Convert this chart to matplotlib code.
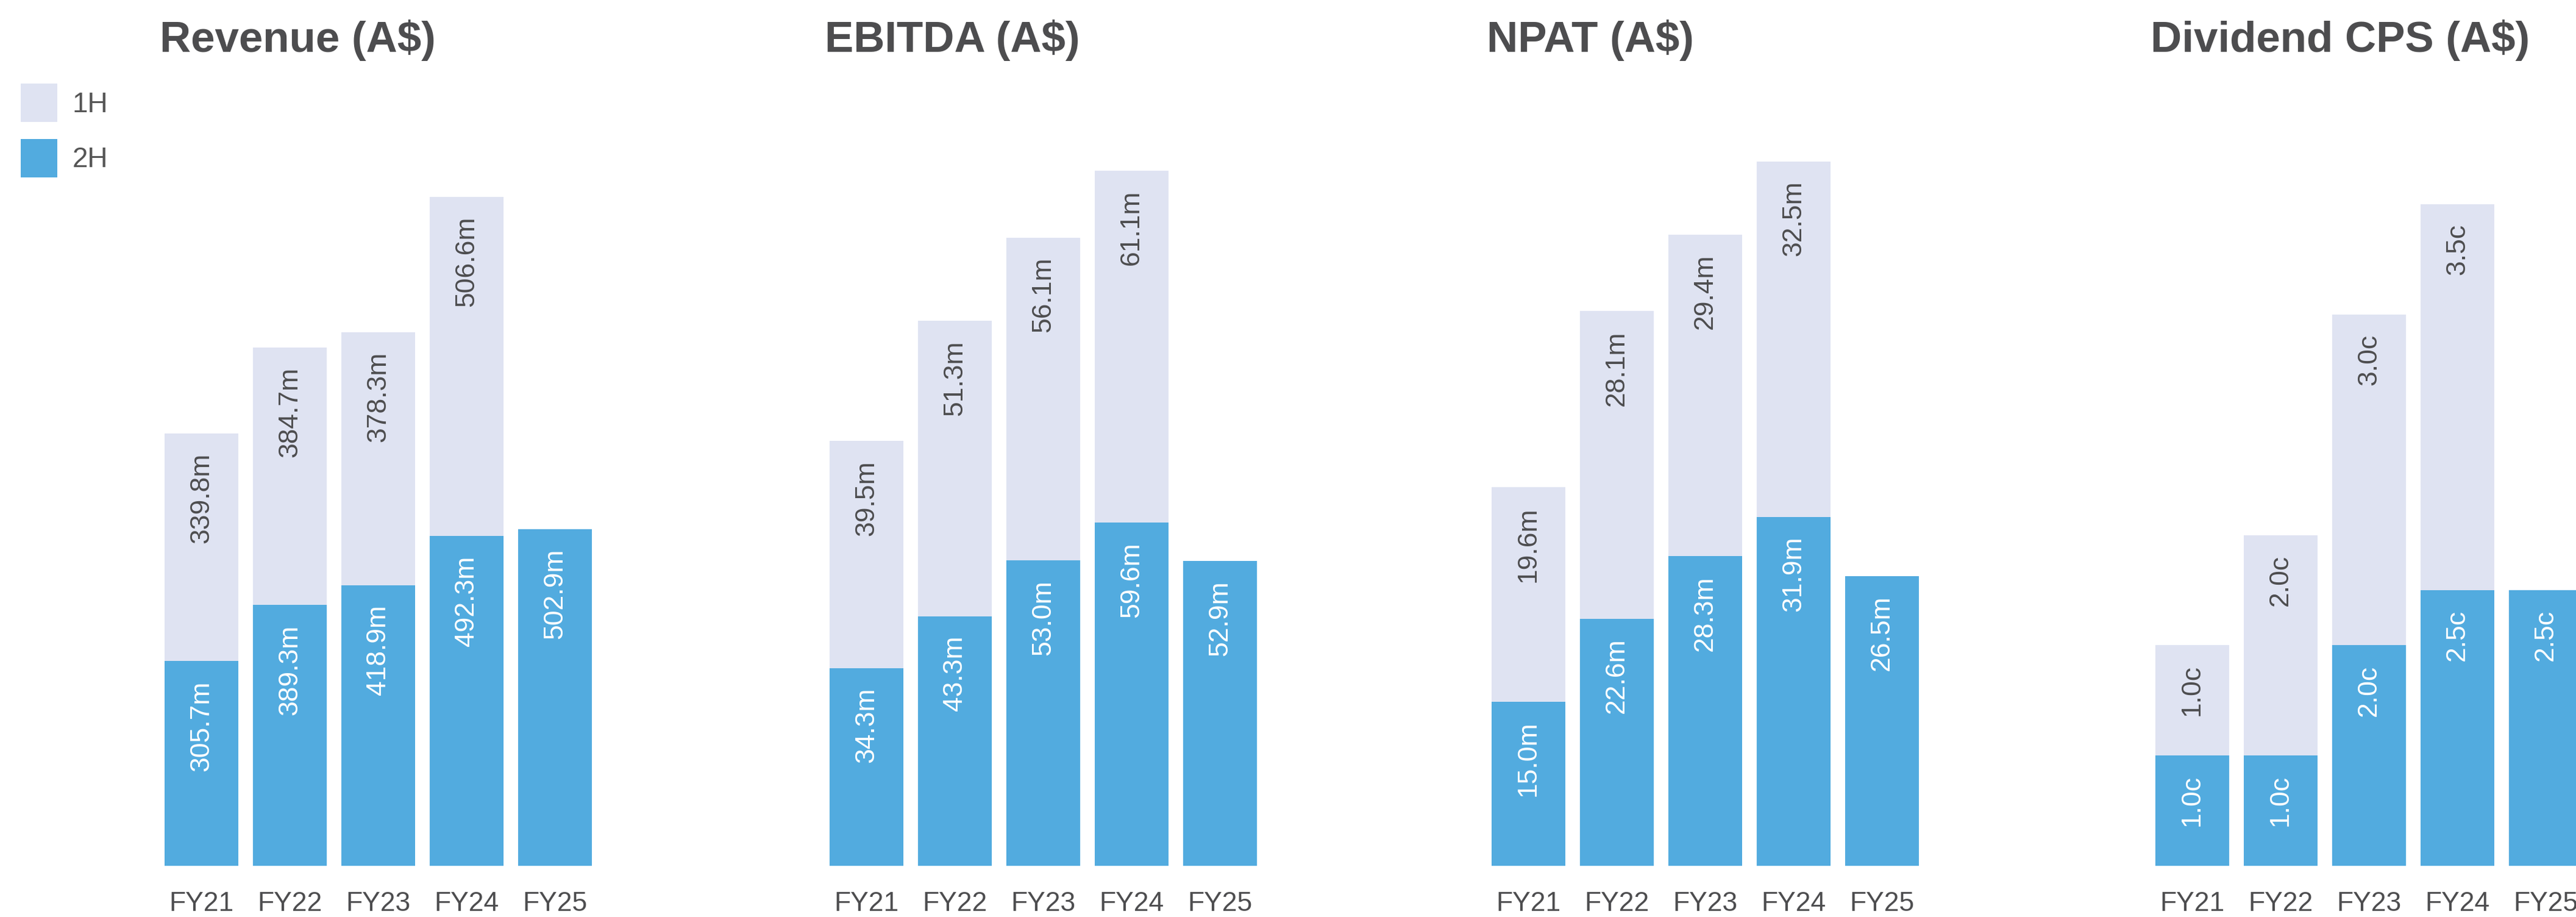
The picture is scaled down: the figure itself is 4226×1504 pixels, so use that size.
import matplotlib
matplotlib.use("Agg")
import matplotlib.pyplot as plt
from matplotlib.patches import Patch

plt.rcParams['font.family'] = ['Liberation Sans', 'DejaVu Sans']

# data
years = ['FY21', 'FY22', 'FY23', 'FY24', 'FY25']

titles = ['Revenue (A$)', 'EBITDA (A$)', 'NPAT (A$)', 'Dividend CPS (A$)']
units = ['m', 'm', 'm', 'c']

# 2H sits at the bottom (blue), 1H stacked on top (lavender)
revenue_2h = [305.7, 389.3, 418.9, 492.3, 502.9]
revenue_1h = [339.8, 384.7, 378.3, 506.6, None]

ebitda_2h = [34.3, 43.3, 53.0, 59.6, 52.9]
ebitda_1h = [39.5, 51.3, 56.1, 61.1, None]

npat_2h = [15.0, 22.6, 28.3, 31.9, 26.5]
npat_1h = [19.6, 28.1, 29.4, 32.5, None]

dps_2h = [1.0, 1.0, 2.0, 2.5, 2.5]
dps_1h = [1.0, 2.0, 3.0, 3.5, None]

bottoms = [revenue_2h, ebitda_2h, npat_2h, dps_2h]
tops = [revenue_1h, ebitda_1h, npat_1h, dps_1h]
ymax = [1070, 124.4, 65.5, 6.5]

BLUE = '#52abdf'
LAV = '#dfe3f2'
DARK = '#4d4d4f'

W, H = 4226, 1504
fig = plt.figure(figsize=(W / 100, H / 100), dpi=100)

panel_left = [270, 1361, 2447, 3536]
panel_w = 701
base_y = 1420
top_y = 245
bw = 0.835

for i in range(4):
    ax = fig.add_axes([panel_left[i] / W, (H - base_y) / H,
                       panel_w / W, (base_y - top_y) / H])
    x = list(range(len(years)))
    b = bottoms[i]
    t = [v if v is not None else 0 for v in tops[i]]
    ax.bar(x, b, width=bw, color=BLUE, linewidth=0)
    ax.bar(x, t, width=bw, bottom=b, color=LAV, linewidth=0)

    for j in x:
        ax.annotate(f'{b[j]:.1f}{units[i]}', (j, b[j]), xytext=(0, -23),
                    textcoords='offset points', rotation=90, ha='center',
                    va='top', color='white', fontsize=32)
        if tops[i][j] is not None:
            ax.annotate(f'{tops[i][j]:.1f}{units[i]}', (j, b[j] + t[j]),
                        xytext=(0, -23), textcoords='offset points',
                        rotation=90, ha='center', va='top', color=DARK,
                        fontsize=32)

    ax.set_xlim(-bw / 2, 4 + bw / 2)
    ax.set_ylim(0, ymax[i])
    ax.set_xticks(x)
    ax.set_xticklabels(years, fontsize=32, color=DARK)
    ax.tick_params(axis='x', length=0, pad=30)
    ax.set_yticks([])
    for s in ax.spines.values():
        s.set_visible(False)

    fig.text((panel_left[i] - 8) / W, 1 - 66 / H, titles[i], fontsize=51,
             fontweight='bold', color=DARK, ha='left', va='center')

handles = [Patch(facecolor=LAV, label='1H'), Patch(facecolor=BLUE, label='2H')]
fig.legend(handles=handles, loc='upper left', bbox_to_anchor=(34 / W, 1 - 137 / H),
           frameon=False, fontsize=33, handlelength=1.3, handleheight=1.75,
           handletextpad=0.55, labelspacing=0.6, borderpad=0, borderaxespad=0,
           labelcolor='#555555')

fig.savefig('out.png', dpi=100)
